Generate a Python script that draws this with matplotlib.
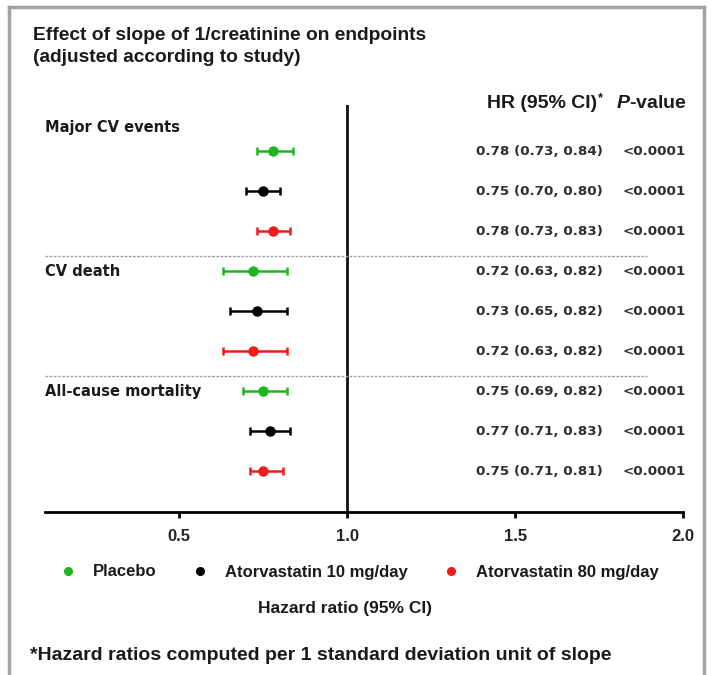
import matplotlib
matplotlib.use("Agg")
import matplotlib.pyplot as plt
from matplotlib.lines import Line2D

# endpoints and treatment arms
groups = ["Major CV events", "CV death", "All-cause mortality"]
arms = ["Placebo", "Atorvastatin 10 mg/day", "Atorvastatin 80 mg/day"]
arm_colors = ["#1fb51f", "#000000", "#ee1c1c"]

# hazard ratios and 95% CI, one row per group, one column per arm
hr = [[0.78, 0.75, 0.78],
      [0.72, 0.73, 0.72],
      [0.75, 0.77, 0.75]]
ci_low = [[0.73, 0.70, 0.73],
          [0.63, 0.65, 0.63],
          [0.69, 0.71, 0.71]]
ci_high = [[0.84, 0.80, 0.83],
           [0.82, 0.82, 0.82],
           [0.82, 0.83, 0.81]]
p_values = ["<0.0001"] * 9
x_ticks = [0.5, 1.0, 1.5, 2.0]

W, H = 713, 675
fig = plt.figure(figsize=(W / 100, H / 100), dpi=100)
txt = "#1a1a1a"

# axes placed in pixel terms so the table texts line up with the reference
ax = fig.add_axes([45 / W, 1 - 512 / H, (683 - 45) / W, (512 - 105) / H])
ax.set_xlim(0.1, 2.0)
ax.set_ylim(9.02, -1.15)

for spine in ["top", "right", "left"]:
    ax.spines[spine].set_visible(False)
ax.spines["bottom"].set_linewidth(2)
ax.set_yticks([])
ax.set_xticks(x_ticks)
ax.set_xticklabels(["%.1f" % t for t in x_ticks], fontsize=12, fontweight="bold",
                   family="Liberation Sans", color="#222222")
ax.tick_params(axis="x", direction="out", length=4, width=2, pad=8)

ax.axvline(1.0, color="#111111", lw=2)

for sep in [2.62, 5.62]:
    ax.axhline(sep, xmin=0, xmax=(647 - 45) / (683 - 45), color="#a0a0a0", lw=1,
               ls=(0, (2, 1)))

row = 0
for g, name in enumerate(groups):
    label_y = -0.58 if g == 0 else row
    ax.text(0.0, label_y, name, transform=ax.get_yaxis_transform(), ha="left",
            va="center", fontsize=10.5, fontweight="bold", family="DejaVu Sans",
            color=txt)
    for a in range(len(arms)):
        h = hr[g][a]
        lo = ci_low[g][a]
        hi = ci_high[g][a]
        ax.errorbar([h], [row], xerr=[[h - lo], [hi - h]], fmt="o", ms=6.5,
                    color=arm_colors[a], ecolor=arm_colors[a], elinewidth=1.8,
                    capsize=3, capthick=1.8)
        ax.text((603 - 45) / (683 - 45), row, "%.2f (%.2f, %.2f)" % (h, lo, hi),
                transform=ax.get_yaxis_transform(), ha="right", va="center",
                fontsize=9.7, fontweight="bold", family="DejaVu Sans",
                color="#2e2e2e")
        ax.text((686 - 45) / (683 - 45), row, p_values[row],
                transform=ax.get_yaxis_transform(), ha="right", va="center",
                fontsize=9.7, fontweight="bold", family="DejaVu Sans",
                color="#2e2e2e")
        row += 1

# column headers
plt.rcParams["mathtext.fontset"] = "custom"
plt.rcParams["mathtext.it"] = "Liberation Sans:italic:bold"
plt.rcParams["mathtext.rm"] = "Liberation Sans:bold"
fig.text(597 / W, 1 - 104 / H, "HR (95% CI)", ha="right", va="center", fontsize=14,
         fontweight="bold", family="Liberation Sans", color=txt)
fig.text(598 / W, 1 - 98 / H, "*", ha="left", va="center", fontsize=9,
         fontweight="bold", family="Liberation Sans", color=txt)
fig.text(687 / W, 1 - 104 / H, r"$\it{P}$-value", ha="right", va="center", fontsize=14,
         fontweight="bold", family="Liberation Sans", color=txt)

# title
fig.text(33 / W, 1 - 35 / H, "Effect of slope of 1/creatinine on endpoints",
         ha="left", va="center", fontsize=13.8, fontweight="bold",
         family="Liberation Sans", color=txt)
fig.text(33 / W, 1 - 57 / H, "(adjusted according to study)",
         ha="left", va="center", fontsize=13.8, fontweight="bold",
         family="Liberation Sans", color=txt)

# legend
handles = [Line2D([], [], ls="none", marker="o", ms=5.5, color=c) for c in arm_colors]
leg = fig.legend(handles, arms, loc="center left", bbox_to_anchor=(45 / W, 1 - 572 / H),
                 ncol=3, frameon=False, handlelength=1.0, handletextpad=1.0,
                 columnspacing=2.1, borderpad=0.4,
                 prop={"family": "Liberation Sans", "weight": "bold", "size": 12})
for t in leg.get_texts():
    t.set_color(txt)

fig.text(345 / W, 1 - 608 / H, "Hazard ratio (95% CI)", ha="center", va="center",
         fontsize=12.5, fontweight="bold", family="Liberation Sans", color=txt)
fig.text(30 / W, 1 - 655 / H,
         "*Hazard ratios computed per 1 standard deviation unit of slope",
         ha="left", va="center", fontsize=14, fontweight="bold",
         family="Liberation Sans", color=txt)

# grey frame around the panel
frame_col = "#a3a3a3"
fig.add_artist(Line2D([9 / W, 9 / W], [0, 1 - 7 / H], color=frame_col, lw=2.5))
fig.add_artist(Line2D([9 / W, 704 / W], [1 - 7 / H, 1 - 7 / H], color=frame_col, lw=2.5))
fig.add_artist(Line2D([704 / W, 704 / W], [0, 1 - 7 / H], color=frame_col, lw=2.5))

fig.savefig("out.png", dpi=100, facecolor="white")
